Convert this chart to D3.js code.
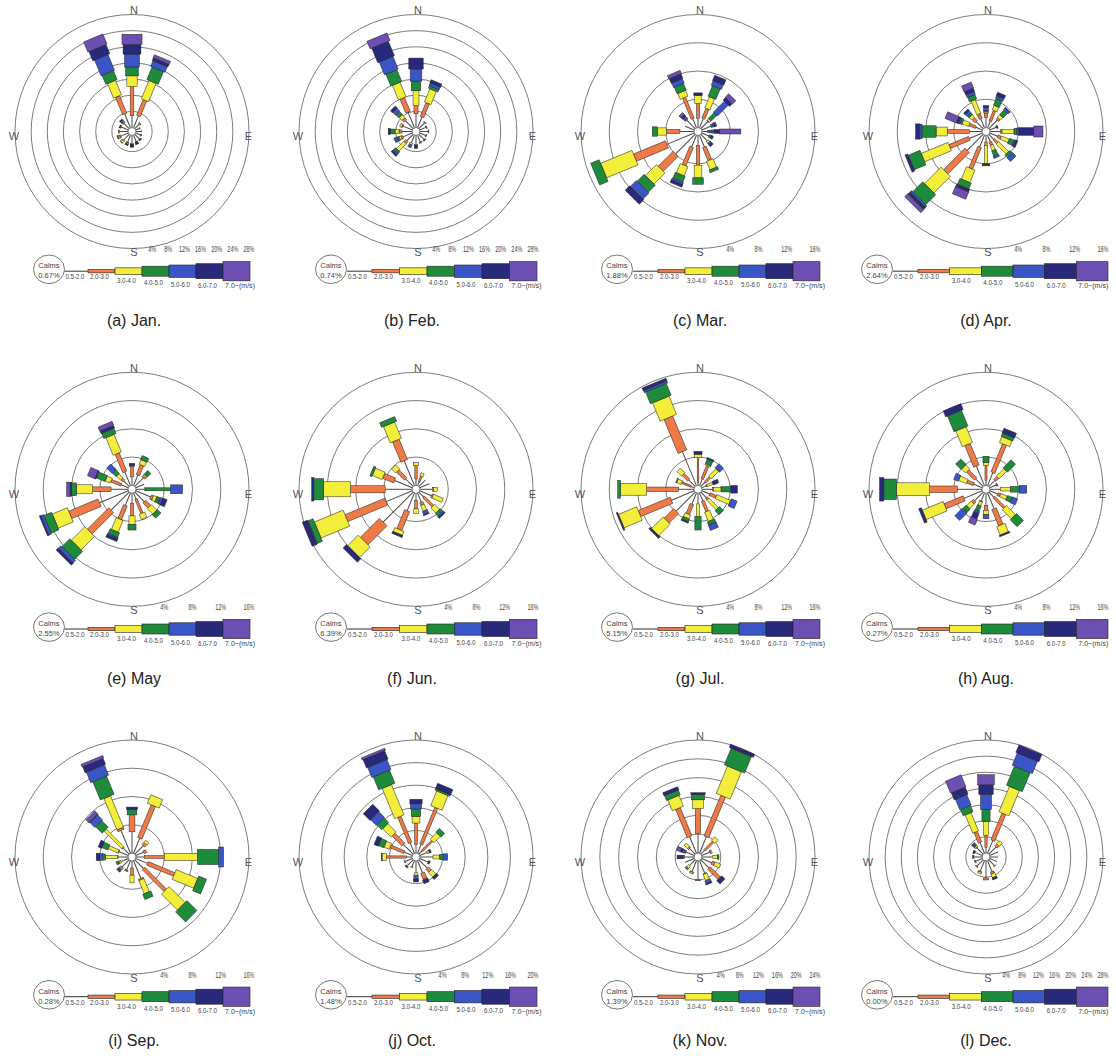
<!DOCTYPE html>
<html><head><meta charset="utf-8">
<script src="https://cdn.jsdelivr.net/npm/d3@7"></script>
<style>body{margin:0;background:#fff}svg{display:block}</style>
</head><body>
<svg id="chart" width="1116" height="1056"></svg>
<script>
// ---------------- DATA ----------------
const directions = ["N","NNE","NE","ENE","E","ESE","SE","SSE","S","SSW","SW","WSW","W","WNW","NW","NNW"];
const speedClasses = ["0.5-2.0","2.0-3.0","3.0-4.0","4.0-5.0","5.0-6.0","6.0-7.0","7.0~(m/s)"];
const monthNames = ["Jan.","Feb.","Mar.","Apr.","May","Jun.","Jul.","Aug.","Sep.","Oct.","Nov.","Dec."];
const panelLetters = ["(a)","(b)","(c)","(d)","(e)","(f)","(g)","(h)","(i)","(j)","(k)","(l)"];
const calms = ["0.67%","0.74%","1.88%","2.64%","2.55%","6.39%","5.15%","0.27%","0.28%","1.48%","1.39%","0.00%"];
const ringMax = [28,28,16,16,16,16,16,16,16,20,24,28];   // outer ring value (%), rings every 4%

// frequency (%) per direction (N..NNW, clockwise) and speed class (0.5-2, 2-3, 3-4, 4-5, 5-6, 6-7, 7+)
const jan = [[2.9,7.2,2.7,2.2,3.2,2.4,2.5],[3.2,4.2,4.9,3.4,1.5,0.7,0.8],[1.5,0.2,0.2,0,0,0,0],[1.0,0.1,0,0,0,0,0],
  [1.3,0.1,0,0,0,0,0],[1.3,0.1,0.1,0,0,0,0],[1.6,0.1,0.1,0.1,0.1,0,0],[1.7,0.1,0.1,0.1,0.2,0.2,0],
  [2.0,0.2,0.1,0.1,0.2,0.3,0],[1.8,0.2,0.3,0.2,0.1,0,0],[1.9,0.3,0.5,0.1,0,0,0],[2.0,0.3,0.4,0.2,0,0,0],
  [2.1,0.2,0.1,0,0,0,0],[1.9,0.2,0.1,0.1,0,0,0],[1.8,0.2,0.2,0.2,0.3,0.3,0],[3.7,4.7,3.9,2.4,4.2,2.5,2.7]];
const feb = [[3.4,2.0,3.7,2.4,3.0,2.7,0],[2.9,3.7,3.5,0.7,0.7,0.8,0],[2.0,0.1,0.1,0,0,0,0],[1.7,0.1,0.1,0,0,0,0],
  [2.0,0,0,0,0.1,0.1,0],[1.6,0.1,0.1,0,0,0,0],[1.8,0.1,0.1,0.1,0,0,0],[1.8,0.1,0.2,0,0,0,0],
  [2.2,0.3,0,0,0,0.7,0],[2.0,0,0.5,0,0.7,0,0],[2.2,0.7,2.5,0.5,0.5,0.5,0],[2.5,0.4,0.5,0.5,0.8,0,0],
  [2.5,0.7,1.0,1.2,0,0.5,0],[2.5,0.2,0.5,0,0,0,0],[2.7,0.7,1.0,1.0,1.0,0.7,0],[4.2,3.7,3.9,3.2,3.4,3.9,2.0]];
const mar = [[1.3,2.1,1.1,0.1,0,0.3,0],[1.4,1.5,1.7,1.6,0.7,0.8,0],[1.4,0.1,0.3,1.1,2.2,0.5,0.7],[1.4,0,0,0,0.4,0.2,0.2],
  [0.8,0.2,0.1,0.3,0.4,0.7,3.0],[1.1,0,0,0,0.3,0.3,0],[1.3,0,0.3,0,0.3,0.3,0],[1.8,2.0,1.3,0.4,0,0,0],
  [1.4,2.8,1.8,0.9,0,0,0],[1.8,2.8,1.4,0.9,0.3,0.4,0],[3.9,3.0,2.2,1.4,1.2,0.9,0],[4.2,4.9,4.8,1.3,0,0,0],
  [2.0,1.9,1.3,0.7,0,0,0],[1.4,0,0,0,0,0,0],[1.7,0,0,0.2,0.3,0.3,0.4],[1.4,3.2,0.9,1.0,0.7,0.7,0.5]];
const apr = [[1.4,0.6,0.2,0.2,0.4,0.3,0],[1.0,1.6,0.7,1.0,0.4,0.5,0],[1.7,0.3,0.5,0.9,0.3,0.1,0],[1.0,0,0,0,0.1,0.1,0],
  [1.5,0.2,1.7,0.4,0.3,2.1,1.3],[1.2,0.5,1.2,0.7,0.2,0.3,0],[1.0,0.7,2.0,0.5,0.7,0,0],[1.0,0.5,0.8,0.8,0.3,0,0],
  [0.9,0.5,2.6,0.1,0,0.2,0],[1.8,3.3,1.9,0.9,0.1,0.3,1.1],[3.2,4.3,3.3,2.0,0.3,0.4,0.6],[2.0,3.0,4.1,1.8,0,0.4,0],
  [1.8,3.1,1.6,2.0,0.3,0.6,0],[1.0,1.0,1.0,0.3,0.2,0.3,1.7],[1.4,0.6,0.5,0.3,0.4,0.3,0],[1.4,0.7,2.1,0.7,0.4,0.5,0.9]];
const may = [[1.2,1.5,0.1,0,0,0.3,0],[1.6,1.5,0.7,0.6,0,0,0],[1.7,0.3,0.2,0.7,0,0,0],[1.3,0,0,0,0,0,0],
  [1.2,0,0.1,3.6,1.7,0,0],[2.3,0.3,0.5,0.5,0.4,0.6,0],[1.9,1.0,1.1,0.7,0,0,0],[0.9,2.2,0.8,0,0,0,0],
  [1.4,1.8,1.2,0.8,0,0,0],[1.9,2.1,1.8,0.7,0.2,0.4,0],[3.6,4.3,2.7,1.6,0.5,0.4,0],[4.4,4.5,2.3,1.2,0.4,0.2,0],
  [2.4,2.6,2.3,0.7,0,0.2,0.5],[1.1,1.5,0.8,1.3,0,0.2,1.1],[1.1,0.4,0.8,0.7,1.1,0,0],[2.1,2.8,2.7,0.8,0,0.4,0.6]];
const jun = [[0.9,1.9,0.4,0,0,0,0],[0.5,0.9,0.5,0,0,0,0],[1.3,0,0,0,0,0,0],[1.5,0,0,0,0,0,0],
  [1.8,0.1,0.6,0,0,0,0],[1.8,0.2,1.5,0,0,0,0],[1.0,1.8,1.0,0.5,0.2,0.2,0],[1.4,0.4,0.9,0,0.5,0.1,0],
  [1.0,1.2,0.7,0,0,0,0],[2.7,2.9,0.6,0,0,0.3,0],[6.0,3.8,2.1,0,0,0.7,0],[4.0,6.1,4.4,0.8,0.1,0.7,0],
  [3.8,4.9,3.8,1.4,0,0.3,0],[2.7,1.7,1.5,0.3,0,0,0],[1.5,1.6,0.8,0,0,0,0],[3.8,3.1,2.5,0.7,0,0,0]];
const jul = [[0.4,3.5,0.5,0,0,0.4,0],[1.0,2.0,0.2,0.7,0,0.2,0],[0.8,1.0,1.5,0.1,0.7,0,0],[0.7,0.1,0.9,0,0,0.8,0],
  [1.5,0.1,1.1,1.4,0,0.9,0],[1.2,1.0,2.1,0,0.9,0,0],[1.1,0.3,1.9,0.8,0,0,0],[1.2,1.6,1.4,0.5,0.8,0,0],
  [1.5,0,1.8,1.9,0,0,0],[1.7,1.5,0.6,0.4,0,0.2,0],[3.8,1.9,2.3,0,0,0.3,0],[3.5,4.9,2.8,0,0,0.2,0],
  [2.2,4.5,3.7,0.4,0,0,0],[0.5,1.4,0.7,0.1,0,0,0],[1.3,1.1,0.9,0,0,0,0],[5.2,5.2,2.8,1.8,0.3,0.4,0]];
const aug = [[0.7,2.1,0.4,0.9,0,0,0],[2.0,4.3,0.9,0.5,0,0.7,0],[1.2,0.6,1.5,1.6,0,0,0],[1.0,0.1,0.1,0,0,0,0],
  [1.5,0,1.4,1.3,1.0,0,0],[1.2,0.4,1.0,0.7,0.8,0,0],[1.0,2.1,1.8,1.4,0,0,0],[2.4,2.5,1.3,0,0,0.2,0],
  [1.7,0.7,0.6,0,0.6,0,0],[1.2,0.1,0.6,0.8,0.3,0.8,0.9],[1.7,0.4,0.9,0.7,1.5,0,0],[2.8,2.9,3.2,0,0,0.4,0],
  [3.5,3.9,4.7,1.8,0,0.6,0],[1.3,1.0,1.2,0,0.7,0,0],[1.5,1.6,0.8,1.1,0,0,0],[3.0,3.3,2.4,2.4,0,0.9,0]];
const sep = [[3.0,2.4,0,0.8,0,0.3,0],[2.3,5.0,1.3,0,0,0,0],[1.7,0.4,0.4,0,0,0,0],[1.2,0.4,0,0,0,0,0],
  [1.2,2.8,4.7,3.0,0.7,0,0],[1.8,4.1,3.3,1.2,0,0,0],[1.7,4.4,3.2,2.0,0,0,0],[2.7,0.2,2.0,0.8,0,0,0],
  [1.0,1.0,1.1,0,0,0,0],[1.4,0.1,0.1,0,0,0,0],[1.4,0.1,0.2,0,0.3,0.2,0],[1.1,0,0.3,0.4,0,0,0],
  [1.4,0.1,1.7,0.4,0.4,0.5,0],[1.4,0.1,1.5,0.9,0,0.5,0],[1.2,0.1,3.5,1.3,1.0,0.1,0.6],[3.5,0.3,4.8,2.8,1.6,0.9,0.4]];
const oct = [[1.5,3.8,1.2,1.3,0.9,0.8,0],[1.7,7.0,2.8,0.3,0.1,0.9,0],[0.8,2.5,1.6,0.9,0,0,0],[1.4,0,0.4,0,0,0.3,0],
  [2.3,0,1.2,0.7,0.7,0,0],[1.6,0.1,0.1,0,0.1,0,0],[2.1,0.7,1.1,0,0,0.5,0],[2.3,1.2,0.1,0,0,0.6,0],
  [2.1,0,0.5,0,0.6,0.5,0],[1.2,0,0.1,0,0,0,0],[1.5,0.1,0.1,0.1,0,0,0],[1.4,0.1,0,0,0,0,0],
  [1.0,3.5,0.8,0,0,0.1,0],[1.5,2.7,1.0,1.0,0,0.8,0],[2.4,2.5,2.1,1.2,1.4,1.7,0],[2.0,5.0,5.8,2.5,1.9,1.6,0.4]];
const nov = [[4.1,5.3,1.9,1.1,0,0.4,0],[3.8,9.3,6.3,3.8,0,0.7,0],[1.1,2.6,1.0,0,0,0,0],[1.8,0.2,0.3,0,0,0,0],
  [2.3,0,1.0,0.3,0,0,0],[2.3,0.6,1.3,0,0,0,0],[2.5,3.0,0.1,0,0,0.9,0],[2.9,0.1,1.4,0,0.6,0.3,0],
  [4.0,0.2,0,0,0,0,0],[2.5,0.1,0.3,0,0,0,0],[1.7,0,0.6,0.4,0,0,0],[2.1,0,0,0,0,0,0],
  [2.0,0,0.1,0,0.4,1.1,0],[1.9,0,0,0.3,0.5,0.3,0.9],[1.7,0.3,1.0,0,0,0,0],[3.8,6.5,2.5,1.1,0,0.7,0]];
const dec = [[1.4,3.0,3.4,3.0,3.7,2.4,2.5],[3.4,7.2,6.8,5.1,3.3,2.0,0],[2.5,0.7,1.0,0,0,0,0],[2.2,0,0,0,0,0,0],
  [2.0,0,0,0,0,0,0],[2.0,0,0,0,0,0,0],[2.0,0,0.2,0,0,0,0],[2.9,0.5,1.0,0,0,0.5,0],
  [4.2,0.5,0,0,0,0,0],[2.8,0.2,0.4,0,0,0,0],[2.2,0.1,0.1,0,0,0,0],[1.8,0.1,0.1,0,0,0,0],
  [2.0,0.1,0.1,0.1,0,0,0],[2.0,0.1,0.1,0.1,0.1,0,0],[2.2,0.2,0.3,0.2,0.4,0.3,0],[2.9,2.8,4.9,1.7,2.8,1.9,3.2]];
const monthData = [jan,feb,mar,apr,may,jun,jul,aug,sep,oct,nov,dec];

// ---------------- STYLE / LAYOUT ----------------
const classColors = ["#444444","#F07A45","#F3EE3A","#1E8A3C","#3A56C6","#29297C","#6D4EB2"];
const colX = [132, 416, 698, 986];
const rowY = [131.5, 489.3, 857];
const captionX = [134, 412, 700, 986];
const captionY = [320, 678, 1040];
const legCalmX = [49, 331, 617, 877];
const legLineX0 = [64.5, 347, 633, 893];
const legRectX0 = [88, 372, 658, 918];
const legRectX1 = [250, 537, 820, 1108];
const legHeights = [0, 3.3, 6.7, 10, 12.4, 15, 19.3];
const legLabelDy = [5.3, 5.7, 9.6, 11.4, 13, 14, 14.7];
const R = 117, R0 = 4;
const FONT = "'Liberation Sans', Arial, sans-serif";

const svg = d3.select("#chart");

monthData.forEach((data, m) => {
  const col = m % 4, row = Math.floor(m / 4);
  const cx = colX[col], cy = rowY[row];
  const max = ringMax[m];
  const r = d3.scaleLinear().domain([0, max]).range([R0, R]);
  const g = svg.append("g").attr("transform", `translate(${cx},${cy})`);

  // rings
  const ticks = d3.range(4, max + 0.01, 4);
  g.selectAll("circle.ring").data(ticks).join("circle")
    .attr("class", "ring").attr("r", d => r(d))
    .attr("fill", "none").attr("stroke", "#5a5a5a").attr("stroke-width", 0.8);

  // bars
  data.forEach((vals, i) => {
    const cum = d3.cumsum(vals);
    const dg = g.append("g").attr("transform", `rotate(${i * 22.5})`);
    dg.append("line").attr("x1", 0).attr("x2", 0)
      .attr("y1", -r(0)).attr("y2", -r(cum[0]))
      .attr("stroke", "#4a4a4a").attr("stroke-width", 1);
    for (let k = 1; k < vals.length; k++) {
      if (vals[k] <= 0) continue;
      const rs = r(cum[k - 1]), re = r(cum[k]);
      const w = Math.max(1.6, 0.23 * rs);
      dg.append("rect")
        .attr("x", -w / 2).attr("y", -re)
        .attr("width", w).attr("height", re - rs)
        .attr("fill", classColors[k]).attr("stroke", "#222").attr("stroke-width", 0.5);
    }
  });

  // calm circle
  g.append("circle").attr("r", R0).attr("fill", "#fff").attr("stroke", "#555").attr("stroke-width", 0.8);

  // compass labels
  const lab = (t, x, y) => g.append("text").text(t).attr("x", x).attr("y", y)
    .attr("text-anchor", "middle").attr("dominant-baseline", "central")
    .attr("font-family", FONT).attr("font-size", 11).attr("fill", "#555");
  lab("N", 2, -121.5);
  lab("S", 2, 120.5);
  lab("W", -118, 4.5);
  lab("E", 116.5, 4.5);

  // ring tick labels along the bottom
  g.selectAll("text.tick").data(ticks).join("text").attr("class", "tick")
    .text(d => d + "%").attr("x", d => r(d)).attr("y", 117.5)
    .attr("text-anchor", "middle").attr("dominant-baseline", "central")
    .attr("textLength", d => d < 10 ? 8 : 11).attr("lengthAdjust", "spacingAndGlyphs")
    .attr("font-family", FONT).attr("font-size", 8.5).attr("fill", "#444");

  // legend
  const ly = cy + 139.7;
  const lg = svg.append("g");
  lg.append("ellipse").attr("cx", legCalmX[col]).attr("cy", cy + 137.8)
    .attr("rx", 15.5).attr("ry", 14.3).attr("fill", "#fff").attr("stroke", "#555").attr("stroke-width", 0.8);
  lg.append("text").text("Calms").attr("x", legCalmX[col]).attr("y", cy + 134)
    .attr("text-anchor", "middle").attr("dominant-baseline", "central")
    .attr("font-family", FONT).attr("font-size", 7.5).attr("fill", "#444");
  lg.append("text").text(calms[m]).attr("x", legCalmX[col]).attr("y", cy + 144)
    .attr("text-anchor", "middle").attr("dominant-baseline", "central")
    .attr("font-family", FONT).attr("font-size", 7.5).attr("fill", "#444");
  const segW = (legRectX1[col] - legRectX0[col]) / 6;
  const segStart = k => k === 0 ? legLineX0[col] : legRectX0[col] + (k - 1) * segW;
  lg.append("line").attr("x1", legLineX0[col]).attr("x2", legRectX0[col])
    .attr("y1", ly).attr("y2", ly).attr("stroke", "#333").attr("stroke-width", 1);
  speedClasses.forEach((sc, k) => {
    if (k > 0) {
      lg.append("rect").attr("x", segStart(k)).attr("y", ly - legHeights[k] / 2)
        .attr("width", segW).attr("height", legHeights[k])
        .attr("fill", classColors[k]).attr("stroke", "#222").attr("stroke-width", 0.6);
    }
    lg.append("text").text(sc).attr("x", segStart(k) + (k === 0 ? 1 : 2)).attr("y", ly + legLabelDy[k])
      .attr("dominant-baseline", "central")
      .attr("textLength", k < 6 ? 19 : 30).attr("lengthAdjust", "spacingAndGlyphs")
      .attr("font-family", FONT).attr("font-size", 8).attr("fill", "#444");
  });

  // caption
  svg.append("text").text(panelLetters[m] + " " + monthNames[m])
    .attr("x", captionX[col]).attr("y", captionY[row])
    .attr("text-anchor", "middle").attr("dominant-baseline", "central")
    .attr("font-family", FONT).attr("font-size", 16).attr("fill", "#222");
});
</script>
</body></html>
